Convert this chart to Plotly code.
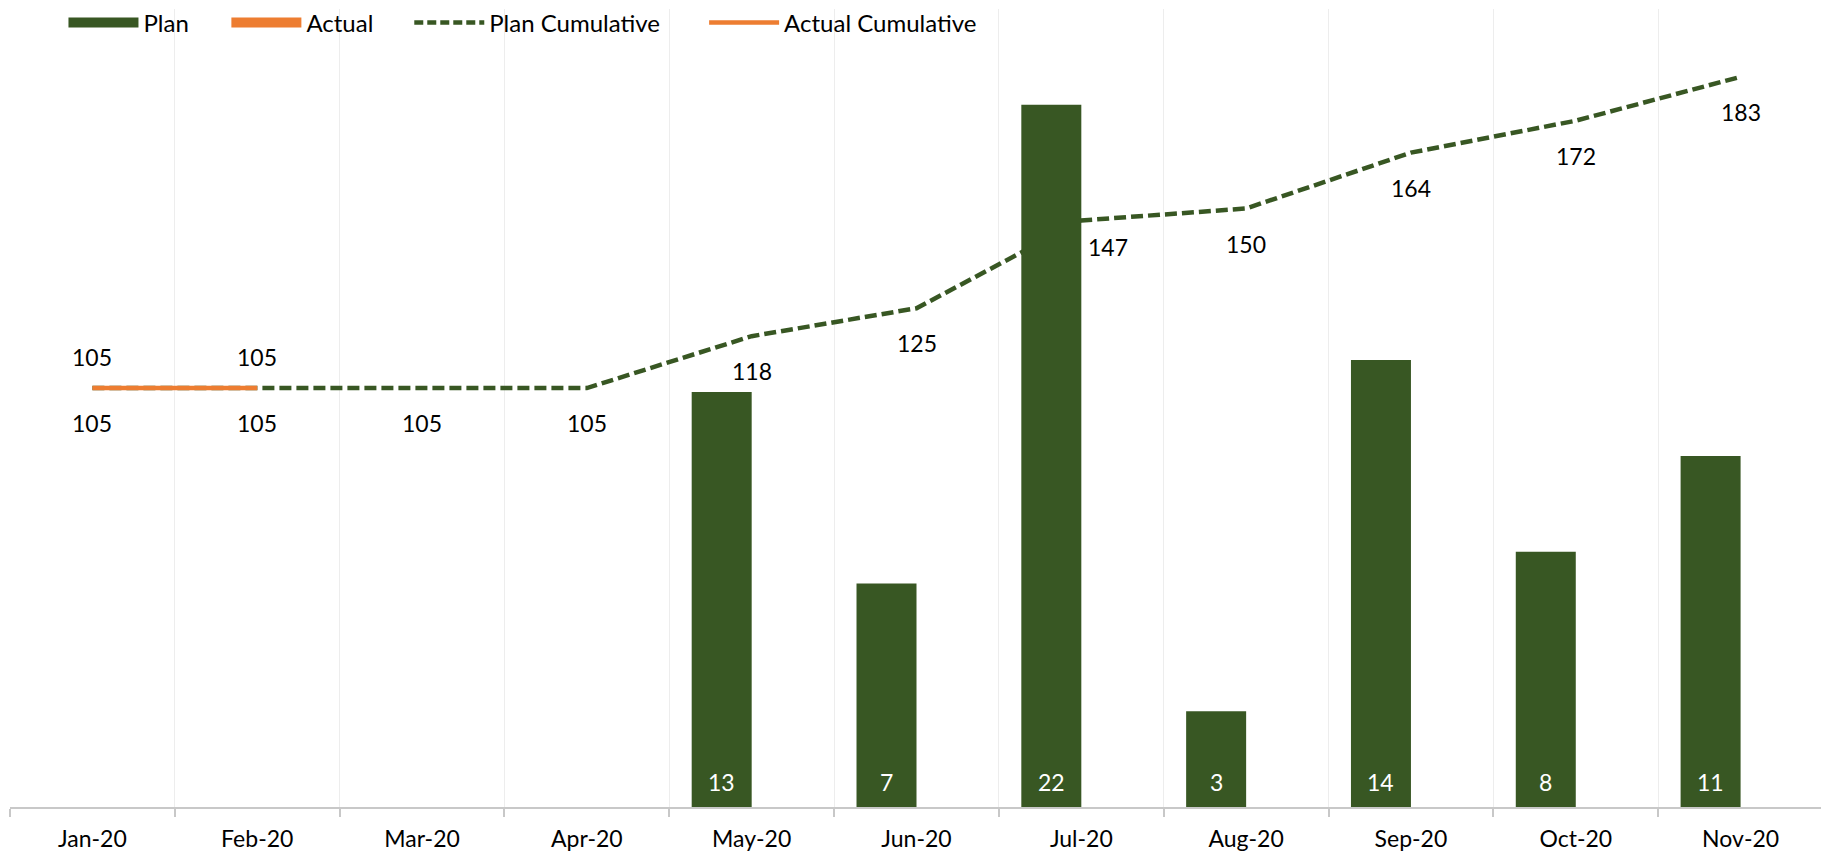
import plotly.graph_objects as go

months = ["Jan-20", "Feb-20", "Mar-20", "Apr-20", "May-20", "Jun-20",
          "Jul-20", "Aug-20", "Sep-20", "Oct-20", "Nov-20"]
plan = [None, None, None, None, 13, 7, 22, 3, 14, 8, 11]
actual = [None] * 11
plan_cum = [105, 105, 105, 105, 118, 125, 147, 150, 164, 172, 183]
actual_cum = [105, 105, None, None, None, None, None, None, None, None, None]

GREEN = "#385723"
ORANGE = "#ED7D31"
FONT = "Lato"
FS = 23
FS_LEG = 24

# page body has an 8px margin: the figure sits at (8, 8) in the page
OFF = 8
W, H = 1829 - OFF, 853 - OFF
PLOT_L, PLOT_R, PLOT_T, PLOT_B = 9.5, 1823.5, 9, 807   # page coordinates
ML, MT = PLOT_L - OFF, PLOT_T - OFF
MR = W + OFF - PLOT_R
MB = H + OFF - PLOT_B
PW, PH = W - ML - MR, H - MT - MB

BARGAP = 0.272
bar_w = PW / len(months) * (1 - BARGAP) / 2

def px_x(xpage):
    return (xpage - PLOT_L) / PW

def px_y(ypage):
    return (PLOT_B - ypage) / PH

fig = go.Figure()

# lines on primary y (drawn below bars)
fig.add_trace(go.Scatter(x=months, y=plan_cum, mode="lines", yaxis="y",
                         line=dict(color=GREEN, width=4.5, dash="12px,5px"),
                         showlegend=False, hoverinfo="skip"))
fig.add_trace(go.Scatter(x=months, y=actual_cum, mode="lines", yaxis="y",
                         line=dict(color=ORANGE, width=4.5),
                         showlegend=False, hoverinfo="skip"))

# bars on overlaying y2 (drawn above lines)
fig.add_trace(go.Bar(x=months, y=plan, yaxis="y2", marker=dict(color=GREEN, line=dict(width=0)),
                     showlegend=False, hoverinfo="skip"))
fig.add_trace(go.Bar(x=months, y=actual, yaxis="y2", marker=dict(color=ORANGE),
                     showlegend=False, hoverinfo="skip"))

# legend entries (one legend each so positions can be set)
legend_items = [
    ("Plan", dict(color=GREEN, width=15), 68),
    ("Actual", dict(color=ORANGE, width=15), 231),
    ("Plan Cumulative", dict(color=GREEN, width=4.5, dash="9px,4px"), 414),
    ("Actual Cumulative", dict(color=ORANGE, width=4.5), 709),
]
layout_legends = {}
for i, (name, ln, xpix) in enumerate(legend_items):
    lname = "legend" if i == 0 else f"legend{i+1}"
    fig.add_trace(go.Scatter(x=[None], y=[None], mode="lines", name=name, line=ln,
                             legend=lname, showlegend=True))
    layout_legends[lname] = dict(
        x=px_x(xpix - 5), xanchor="left",
        y=px_y(23), yanchor="middle",
        orientation="h", bgcolor="rgba(0,0,0,0)", itemwidth=70,
        font=dict(family=FONT, size=FS_LEG, color="black"),
        borderwidth=0,
    )

annotations = []
# bar data labels, inside base of the plan bars
for m, v in zip(months, plan):
    if v is None:
        continue
    annotations.append(dict(x=m, y=0, xref="x", yref="y2", text=str(v), showarrow=False,
                            xshift=-bar_w / 2, yshift=9, yanchor="bottom",
                            font=dict(family=FONT, size=FS, color="white")))
# data labels for the cumulative lines
label_shift = {"Jul-20": (27, -27)}
for m, v in zip(months, plan_cum):
    dx, dy = label_shift.get(m, (0, -35))
    annotations.append(dict(x=m, y=v, xref="x", yref="y", text=str(v), showarrow=False,
                            xshift=dx, yshift=dy,
                            font=dict(family=FONT, size=FS, color="black")))
for m, v in zip(months, actual_cum):
    if v is None:
        continue
    annotations.append(dict(x=m, y=v, xref="x", yref="y", text=str(v), showarrow=False,
                            yshift=31, font=dict(family=FONT, size=FS, color="black")))

fig.update_layout(
    width=W, height=H,
    margin=dict(l=ML, r=MR, t=MT, b=MB, pad=0, autoexpand=False),
    paper_bgcolor="white", plot_bgcolor="white",
    barmode="group", bargap=BARGAP, bargroupgap=0,
    xaxis=dict(type="category", tickson="boundaries", showgrid=True,
               gridcolor="#EDEDED", gridwidth=1,
               showline=True, linecolor="#C8C8C8", linewidth=1.5,
               ticks="outside", ticklen=8, tickcolor="#C8C8C8", tickwidth=1.5,
               tickfont=dict(family=FONT, size=FS, color="black"),
               ticklabelstandoff=11, zeroline=False, fixedrange=True,
               automargin=False),
    yaxis=dict(range=[0, 200], visible=False, fixedrange=True),
    yaxis2=dict(range=[0, 25], overlaying="y", visible=False, fixedrange=True),
    annotations=annotations,
    shapes=[dict(type="rect", xref="paper", yref="paper",
                 x0=0, x1=px_x(1005), y0=px_y(47), y1=1,
                 fillcolor="white", line=dict(width=0), layer="between")],
    showlegend=True,
    **layout_legends,
)

fig.write_html("out.html")
